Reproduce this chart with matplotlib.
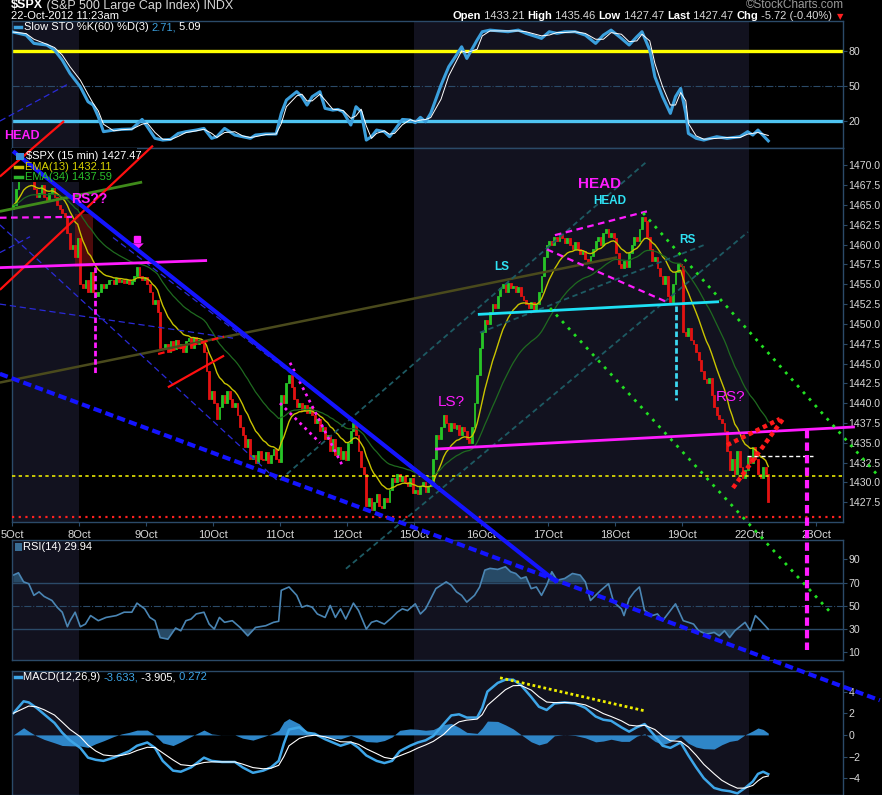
import numpy as np
import pandas as pd
import matplotlib
matplotlib.use("agg")
import matplotlib.pyplot as plt
from matplotlib.patches import Rectangle
from matplotlib.lines import Line2D
from matplotlib.text import Annotation
from matplotlib.ticker import FormatStrFormatter

plt.rcParams['font.family'] = ['Liberation Sans', 'DejaVu Sans']

# 15 minute closes of $SPX, one list per session
first_open = 1464.5
oct05 = [1465.0, 1467.0, 1468.5, 1469.5, 1470.5, 1469.0, 1468.5, 1468.0, 1467.0, 1466.0, 1466.5, 1467.5, 1466.0,
         1465.5, 1466.5, 1467.2, 1466.0, 1465.0, 1464.5, 1464.0, 1463.5, 1461.5, 1459.5, 1460.0, 1458.5, 1460.9]
oct08 = [1455.0, 1454.5, 1455.5, 1454.0, 1456.5, 1454.0, 1453.5, 1454.0, 1455.0, 1454.5, 1455.0, 1455.5, 1455.5,
         1455.0, 1455.8, 1455.3, 1455.6, 1455.2, 1455.5, 1455.0, 1455.4, 1456.0, 1457.2, 1456.0, 1455.5, 1455.9]
oct09 = [1455.0, 1454.0, 1452.5, 1453.0, 1451.5, 1447.0, 1446.8, 1447.5, 1446.5, 1447.8, 1446.8, 1448.0, 1447.0,
         1447.5, 1446.5, 1447.8, 1448.2, 1447.0, 1448.3, 1447.5, 1448.0, 1447.6, 1446.5, 1444.0, 1440.5, 1441.5]
oct10 = [1440.0, 1438.0, 1439.5, 1441.0, 1440.0, 1441.5, 1440.5, 1439.5, 1440.0, 1438.5, 1437.0, 1436.0, 1434.5,
         1435.5, 1433.0, 1433.5, 1432.5, 1434.0, 1433.0, 1432.8, 1433.8, 1432.5, 1433.5, 1434.2, 1433.0, 1432.6]
oct11 = [1441.0, 1440.0, 1442.5, 1443.5, 1442.0, 1440.5, 1439.5, 1440.0, 1439.0, 1439.8, 1438.8, 1439.5, 1438.5,
         1437.5, 1438.0, 1436.5, 1437.0, 1435.5, 1436.0, 1434.0, 1435.5, 1433.5, 1434.5, 1433.0, 1434.0, 1432.8]
oct12 = [1435.0, 1436.5, 1437.5, 1436.0, 1434.0, 1432.0, 1431.0, 1427.0, 1428.0, 1426.5, 1427.5, 1428.5, 1427.0,
         1426.8, 1428.0, 1427.5, 1429.0, 1430.5, 1430.0, 1431.0, 1430.2, 1430.8, 1430.0, 1429.5, 1430.5, 1428.6]
oct15 = [1429.0, 1428.5, 1429.5, 1430.0, 1428.8, 1429.5, 1430.0, 1433.0, 1436.0, 1435.5, 1437.0, 1438.5, 1437.5,
         1436.5, 1437.5, 1436.8, 1437.2, 1436.0, 1437.0, 1436.5, 1435.5, 1435.0, 1437.0, 1440.0, 1443.5, 1447.0]
oct16 = [1449.0, 1450.5, 1450.0, 1451.5, 1452.5, 1452.0, 1453.5, 1454.5, 1455.0, 1454.0, 1455.2, 1454.5, 1454.8,
         1454.0, 1454.6, 1453.5, 1453.0, 1452.5, 1452.0, 1452.8, 1451.8, 1452.5, 1454.0, 1456.0, 1458.5, 1460.0]
oct17 = [1460.5, 1460.0, 1461.0, 1460.5, 1461.2, 1460.8, 1460.2, 1460.8, 1460.0, 1459.5, 1460.3, 1459.5, 1458.8,
         1459.2, 1458.2, 1457.8, 1458.6, 1459.5, 1460.5, 1461.0, 1460.0, 1461.5, 1462.0, 1461.0, 1461.5, 1460.8]
oct18 = [1459.0, 1457.5, 1457.0, 1458.0, 1457.2, 1459.0, 1460.0, 1461.0, 1460.5, 1462.0, 1463.5, 1463.0, 1461.0,
         1459.5, 1458.0, 1458.5, 1457.0, 1456.0, 1455.0, 1456.0, 1453.5, 1452.8, 1455.0, 1456.5, 1457.5, 1457.3]
oct19 = [1449.0, 1448.5, 1449.5, 1448.0, 1447.5, 1446.5, 1445.5, 1444.0, 1443.0, 1442.5, 1443.2, 1441.0, 1439.5,
         1438.5, 1438.0, 1437.5, 1436.5, 1434.0, 1431.5, 1433.0, 1431.0, 1434.0, 1432.0, 1430.5, 1431.5, 1433.2]
oct22 = [1432.5, 1434.5, 1433.0, 1431.0, 1430.5, 1432.0, 1431.0, 1427.47]

day_labels = ['5Oct', '8Oct', '9Oct', '10Oct', '11Oct', '12Oct', '15Oct', '16Oct',
              '17Oct', '18Oct', '19Oct', '22Oct', '23Oct']
bars_per_day = 26
shaded_days = [(0, 1), (6, 11)]

# indicator readings: bar index -> value
sto_t = [0, 5, 8, 13, 16, 19, 22, 26, 29, 31, 33, 35, 39, 42, 46, 50, 52, 55, 58, 61,
         64, 67, 71, 74, 77, 79, 82, 86, 89, 92, 94, 98, 102, 104, 106, 110, 112, 114, 116, 119,
         121, 124, 126, 128, 131, 133, 135, 137, 139, 141, 144, 146, 148, 151, 154, 156, 158, 160, 162, 166,
         169, 172, 174, 176, 180, 182, 185, 192, 196, 199, 205, 208, 211, 214, 218, 222, 226, 229, 232, 236,
         239, 242, 244, 247, 249, 252, 255, 257, 259, 261, 262, 265, 268, 273, 277, 282, 285, 287, 289, 293]
sto_k = [96, 93.4, 86.3, 84.9, 80.6, 72, 60.6, 49.1, 36.3, 33.4, 23.4, 10.6, 12, 12.6, 12.9, 21.1, 14.9, 4.9, 3.4, 4,
         9.1, 10.6, 12, 13.4, 4.9, 6.3, 13.4, 7.7, 6.3, 4.9, 7.7, 8.6, 8.6, 26.3, 37.7, 44.9, 40.6, 33.4, 40.6, 44.9,
         30.6, 29.1, 29.7, 27.7, 16.3, 32, 27.7, 3.4, 6.3, 12, 10.6, 6.3, 12, 21.1, 20.6, 18.3, 22.9, 19.1, 26.3, 50.6,
         66.3, 76.3, 83.4, 73.4, 89.1, 96.3, 97.7, 96.3, 97.7, 94.9, 90.6, 96.3, 94.9, 96.3, 96.3, 93.4, 86.3, 93.4, 97.7, 90.6,
         84.9, 92, 96.3, 80.6, 57.7, 40.6, 26.3, 40.6, 47.7, 26.3, 9.1, 4.9, 3.4, 6.3, 4.9, 6.3, 10.6, 7.7, 12, 2.7]

rsi_t = [0, 2, 4, 6, 8, 10, 12, 15, 17, 19, 21, 22, 24, 26, 28, 30, 33, 36, 40, 43,
         46, 48, 51, 53, 55, 57, 60, 63, 65, 67, 69, 71, 74, 76, 78, 80, 82, 85, 88, 91,
         94, 98, 101, 103, 104, 107, 110, 112, 114, 116, 118, 121, 123, 125, 127, 129, 132, 134, 137, 139,
         141, 144, 147, 149, 151, 153, 156, 158, 160, 162, 164, 168, 170, 172, 174, 176, 179, 181, 183, 185,
         188, 191, 193, 195, 197, 199, 201, 203, 205, 207, 209, 211, 214, 217, 220, 222, 224, 226, 228, 231,
         233, 236, 237, 239, 241, 243, 245, 248, 250, 252, 255, 257, 260, 262, 264, 266, 269, 272, 274, 276,
         278, 280, 284, 286, 288, 290, 293]
rsi_v = [76.4, 78.4, 70.6, 69, 59, 62, 58, 54.6, 48.8, 44.5, 32, 37, 44.5, 32, 34.3, 41.6, 37.2, 40, 41.6, 44.5,
         44.5, 52.3, 47.4, 40, 37.2, 22.7, 21.3, 30.9, 28.5, 37.2, 38.6, 43, 44.5, 34.3, 30, 40, 35.8, 37.2, 31.4, 24.2,
         31.4, 32.9, 35.8, 36.7, 63.3, 66.2, 59, 48.8, 50.3, 48.8, 43, 40, 50.3, 40, 47.4, 38.6, 52.3, 45.9, 30, 35.8,
         37.2, 34.3, 40, 44.5, 47.4, 45.9, 51.7, 43, 47.4, 56, 64.8, 70.6, 67.7, 62, 59, 53.2, 59, 66.2, 80.7, 82.2,
         81.3, 83.6, 79.3, 77.8, 73.5, 74.9, 64.8, 66.2, 59, 67.7, 79.3, 72, 73.5, 77.8, 76.4, 70.6, 54.6, 59, 63.3, 69,
         53.2, 47.4, 41.6, 56, 62, 66.2, 45.9, 41.6, 43, 37.2, 45.9, 51.7, 37.2, 35.8, 34.3, 28.5, 25.6, 27.1, 24.2, 28.5,
         22.7, 28.5, 35.8, 28.5, 41.6, 37.2, 29.9]

macd_t = [0, 4, 6, 9, 12, 16, 19, 22, 26, 29, 32, 35, 39, 42, 45, 48, 52, 55, 58, 62,
          65, 69, 74, 77, 81, 86, 89, 93, 97, 100, 103, 105, 107, 111, 114, 117, 121, 124, 127, 131,
          134, 137, 141, 144, 147, 150, 154, 157, 160, 163, 167, 170, 173, 176, 180, 182, 184, 188, 191, 194,
          197, 201, 204, 207, 210, 214, 218, 222, 226, 229, 232, 236, 239, 242, 245, 249, 252, 255, 259, 262,
          265, 268, 272, 275, 278, 281, 284, 287, 289, 291, 293]
macd_v = [2.0, 3.1, 3.0, 2.5, 1.9, 1.1, 0.2, -0.5, -1.2, -2.1, -2.3, -2.4, -2.1, -1.8, -1.5, -1.0, -0.7, -1.2, -2.4, -3.3,
          -3.4, -3.0, -2.1, -2.4, -2.5, -2.5, -3.0, -3.5, -3.3, -3.0, -2.4, -0.8, 0.5, 0.7, 0.2, 0.1, -0.4, -0.7, -1.0, -0.7,
          -1.2, -1.9, -2.4, -2.6, -2.4, -1.5, -1.0, -0.7, -0.5, -0.1, 1.0, 1.8, 1.9, 1.6, 1.6, 2.5, 4.0, 4.8, 5.1, 5.1,
          4.6, 3.5, 2.6, 2.3, 2.9, 3.0, 2.9, 2.5, 1.7, 1.4, 1.3, 0.7, 0.3, 0.7, 1.0, -0.1, -1.0, -1.2, -0.7, -1.9,
          -3.0, -4.0, -4.9, -5.1, -5.2, -5.4, -4.9, -4.3, -3.6, -3.4, -3.63]

# hand drawn trendlines on the price chart: (bar0, price0, bar1, price1)
blue_solid = [(-0.1, 1471.8, 211.0, 1417.4)]
blue_thick_dash = [(-5.2, 1443.7, 336.3, 1402.5)]
blue_thin_dash = [(-5.2, 1462.5, 102.3, 1430.3), (38.7, 1460.9, 165.6, 1429.4),
                  (-5.2, 1452.5, 85.3, 1448.2), (-5.2, 1475.6, 22.0, 1480.4), (-5.2, 1459.0, 6.5, 1461.0)]
red_solid = [(-5.2, 1454.3, 54.2, 1472.5), (-5.2, 1468.6, 19.7, 1475.6), (60.0, 1442.0, 81.8, 1446.0)]
red_dash = [(56.2, 1446.2, 81.8, 1448.4)]
red_dotted = [(277.0, 1434.7, 297.5, 1438.0), (279.3, 1429.3, 298.7, 1438.0)]
green_solid = [(-5.2, 1464.2, 50.0, 1467.9)]
olive_solid = [(-5.2, 1442.6, 234.3, 1458.4)]
magenta_solid = [(-5.2, 1457.1, 75.2, 1458.0), (163.7, 1434.2, 326.6, 1437.0)]
magenta_dash = [(-5.2, 1463.4, 22.8, 1463.5), (210.2, 1461.2, 245.9, 1464.2), (207.1, 1459.4, 254.1, 1452.7)]
magenta_dot = [(107.4, 1445.1, 127.6, 1432.2), (103.5, 1440.0, 119.0, 1435.0)]
magenta_vert = [(31.7, 1457.2, 31.7, 1443.5)]
magenta_vert_big = [(308.0, 1436.6, 308.0, 1408.8)]
teal_dash = [(103.5, 1430.3, 245.9, 1470.5), (129.1, 1419.1, 285.1, 1461.6), (181.1, 1448.9, 269.2, 1460.1)]
cyan_solid = [(180.3, 1451.2, 273.9, 1452.8)]
cyan_vert = [(257.2, 1452.2, 257.2, 1440.4)]
green_dotted = [(244.4, 1464.0, 336.3, 1430.6), (208.3, 1452.0, 317.7, 1413.4)]
white_dash = [(284.7, 1433.3, 310.3, 1433.3)]
yellow_level = 1430.8
red_level = 1425.6
macd_div = [(188.9, 5.27, 244.7, 2.24)]

BG = 'black'
SHADE = '#12121f'
GRID = '#2b4a68'
TXT = '#d8d8d8'
GREEN = '#27c427'
RED = '#e21212'
MAG = '#ff1cff'
FS = 8

closes = np.array(oct05 + oct08 + oct09 + oct10 + oct11 + oct12 + oct15 + oct16 + oct17 + oct18 + oct19 + oct22)
opens = np.r_[first_open, closes[:-1]]
idx = np.arange(len(closes))
ema13 = pd.Series(closes).ewm(span=13, adjust=False).mean()
ema34 = pd.Series(closes).ewm(span=34, adjust=False).mean()
sto_d = pd.Series(sto_k).rolling(2, min_periods=1).mean()
macd_sig = pd.Series(macd_v).ewm(span=4, adjust=False).mean()
macd_hist = np.array(macd_v) - macd_sig.values

day_ticks = [bars_per_day * d - 0.5 for d in range(len(day_labels))]

fig = plt.figure(figsize=(8.82, 7.95), dpi=100, facecolor=BG)
W, H = 882.0, 795.0


def panel(top, bot):
    return fig.add_axes([12 / W, 1 - bot / H, 831 / W, (bot - top) / H])


def style(ax, ticks, lim):
    ax.set_facecolor(BG)
    ax.set_xlim(-0.5, 322)
    ax.set_ylim(*lim)
    for sp in ax.spines.values():
        sp.set_color(GRID)
        sp.set_linewidth(1)
    ax.yaxis.tick_right()
    ax.set_yticks(ticks)
    ax.tick_params(axis='y', colors=TXT, labelsize=7.6, length=3, color=GRID, pad=1)
    ax.tick_params(axis='x', length=0, labelbottom=False)
    ax.set_xticks([])
    for d0, d1 in shaded_days:
        ax.axvspan(day_ticks[d0], day_ticks[d1], color=SHADE, lw=0, zorder=0)


ax_sto = panel(21, 148)
ax_p = panel(148, 522)
ax_rsi = panel(540, 660)
ax_macd = panel(671, 795)
ax_p.set_zorder(10)

# --- slow stochastics
style(ax_sto, [20, 50, 80], (-3.4, 105.5))
ax_sto.axhline(80, color='#ffff00', lw=2.4, zorder=1)
ax_sto.axhline(20, color='#4fc4f2', lw=2.4, zorder=1)
ax_sto.axhline(50, color=GRID, lw=0.8, ls='-.', zorder=1)
ax_sto.plot(sto_t, sto_k, color='#3b9fdc', lw=2.2, zorder=3)
ax_sto.plot(sto_t, sto_d, color='white', lw=0.7, zorder=4)
ax_sto.text(3.4, 6.9, 'HEAD', color=MAG, fontsize=9, fontweight='bold', ha='center', va='center', zorder=5)

# --- price
style(ax_p, np.arange(1427.5, 1470.1, 2.5), (1425.0, 1472.2))
ax_p.yaxis.set_major_formatter(FormatStrFormatter('%.1f'))
ax_p.set_xticks(day_ticks)
ax_p.set_xticklabels(day_labels)
ax_p.tick_params(axis='x', labelbottom=True, colors=TXT, labelsize=FS, length=3, color=GRID, pad=3)

cols = np.where(closes >= opens, GREEN, RED)
ax_p.add_patch(Rectangle((23.9, 1457.2), 7.0, 6.7, color='#6e1010', alpha=0.7, lw=0, zorder=1))
ax_p.bar(idx, closes - opens, bottom=opens, width=0.72, color=cols, edgecolor=cols, linewidth=0.6, zorder=3)
ax_p.plot(idx, ema13, color='#c9c400', lw=1.0, zorder=4)
ax_p.plot(idx, ema34, color='#1f6a1f', lw=0.9, zorder=4)

ax_p.add_patch(Rectangle((0, 0.91), 0.15, 0.09, transform=ax_p.transAxes, color=BG, lw=0, zorder=5))

ax_p.axhline(yellow_level, color='#e8e800', lw=1.2, ls=(0, (2, 2)), zorder=6)
ax_p.axhline(red_level, color='#ff2020', lw=1.6, ls=(0, (1, 2)), zorder=6)


def draw(ax, segs, **kw):
    for x0, y0, x1, y1 in segs:
        ax.plot([x0, x1], [y0, y1], clip_on=False, solid_capstyle='butt', **kw)


draw(ax_p, olive_solid, color='#4a4a1c', lw=1.8, zorder=5)
draw(ax_p, teal_dash, color='#1d5a63', lw=1.3, ls=(0, (3, 2)), zorder=5)
draw(ax_p, blue_thin_dash, color='#2a2ad8', lw=0.9, ls=(0, (5, 3)), zorder=6)
draw(ax_p, green_solid, color='#3f8a1a', lw=2, zorder=6)
draw(ax_p, red_solid, color='#ff1010', lw=1.6, zorder=6)
draw(ax_p, red_dash, color='#ff1010', lw=1.6, ls=(0, (3, 2)), zorder=6)
draw(ax_p, magenta_solid, color=MAG, lw=2, zorder=6)
draw(ax_p, magenta_dash, color=MAG, lw=1.6, ls=(0, (3, 2)), zorder=6)
draw(ax_p, magenta_dot, color=MAG, lw=2, ls=(0, (1, 1.5)), zorder=6)
draw(ax_p, magenta_vert, color=MAG, lw=2, ls=(0, (2, 1)), zorder=6)
draw(ax_p, magenta_vert_big, color=MAG, lw=3, ls=(0, (2, 1)), zorder=7)
draw(ax_p, cyan_solid, color='#1ee0f5', lw=2, zorder=6)
draw(ax_p, cyan_vert, color='#3cd8f0', lw=2, ls=(0, (2, 1)), zorder=6)
draw(ax_p, green_dotted, color='#22e022', lw=2, ls=(0, (1, 2.2)), zorder=6)
draw(ax_p, red_dotted, color='#ff1a1a', lw=3.2, ls=(0, (1, 0.8)), zorder=7)
draw(ax_p, white_dash, color='white', lw=1, ls=(0, (3, 2)), zorder=6)
draw(ax_p, blue_solid, color='#1414ff', lw=3, zorder=8)
draw(ax_p, blue_thick_dash, color='#1414ff', lw=3, ls=(0, (2, 1)), zorder=8)

# arrow over 9Oct
ax_p.plot(48, 1460.7, marker='s', ms=4.6, color=MAG, zorder=7, clip_on=False)
ax_p.plot(48, 1459.8, marker=[(-1, 0.5), (1, 0.5), (0, -0.5)], ms=9, color=MAG, mew=0, zorder=7)

labels = [('HEAD', 227.7, 1467.7, MAG, 11, 'bold'), ('HEAD', 231.6, 1465.5, '#2fe3f5', 8.5, 'bold'),
          ('LS', 189.7, 1457.2, '#2fe3f5', 8.5, 'bold'), ('RS', 261.8, 1460.6, '#2fe3f5', 8.5, 'bold'),
          ('LS?', 169.9, 1440.1, MAG, 11, 'normal'), ('RS?', 278.5, 1440.8, MAG, 11, 'normal'),
          ('RS??', 29.6, 1465.8, MAG, 10, 'bold')]
for s, x, y, c, fs, fw in labels:
    ax_p.text(x, y, s, color=c, fontsize=fs, fontweight=fw, ha='center', va='center', zorder=9)

# --- RSI
style(ax_rsi, [10, 30, 50, 70, 90], (3.4, 106.6))
rv = np.array(rsi_v)
ax_rsi.fill_between(rsi_t, rv, 70, where=rv >= 70, interpolate=True, color='#274a66', lw=0, zorder=1)
ax_rsi.fill_between(rsi_t, rv, 30, where=rv <= 30, interpolate=True, color='#274a66', lw=0, zorder=1)
ax_rsi.axhline(70, color=GRID, lw=1, zorder=1)
ax_rsi.axhline(30, color=GRID, lw=1, zorder=1)
ax_rsi.axhline(50, color=GRID, lw=0.8, ls='-.', zorder=1)
ax_rsi.plot(rsi_t, rv, color='#4a85b3', lw=1.2, zorder=2)

# --- MACD
style(ax_macd, [-4, -2, 0, 2, 4], (-5.55, 5.9))
ax_macd.fill_between(macd_t, 0, macd_hist, color='#2f86c8', lw=0, zorder=1)
ax_macd.plot(macd_t, macd_v, color='#3ea6e8', lw=1.8, zorder=2)
ax_macd.plot(macd_t, macd_sig, color='white', lw=0.8, zorder=3)
draw(ax_macd, macd_div, color='#f0f000', lw=2, ls=(0, (1, 1)), zorder=4)


# --- texts placed in figure pixels
def fp(x, y):
    return x / W, 1 - y / H


def run(x, y, parts, size=FS, va='center'):
    s, c, w = parts[0]
    t = fig.text(*fp(x, y), s, color=c, fontsize=size, fontweight=w, va=va, zorder=20)
    for s, c, w in parts[1:]:
        a = Annotation(s, xy=(1, 0), xycoords=t, xytext=(0, 0), textcoords='offset points',
                       color=c, fontsize=size, fontweight=w, va='bottom', zorder=20)
        fig.add_artist(a)
        t = a


def run_right(x, y, parts, size=FS):
    s, c, w = parts[-1]
    t = fig.text(*fp(x, y), s, color=c, fontsize=size, fontweight=w, ha='right', va='center', zorder=20)
    for s, c, w in parts[-2::-1]:
        a = Annotation(s, xy=(0, 0), xycoords=t, xytext=(0, 0), textcoords='offset points',
                       color=c, fontsize=size, fontweight=w, ha='right', va='bottom', zorder=20)
        fig.add_artist(a)
        t = a


def dash(x0, x1, y, c, lw=2.5):
    fig.add_artist(Line2D([x0 / W, x1 / W], [1 - y / H] * 2, color=c, lw=lw, zorder=20))


run(11, 8.5, [('$SPX', 'white', 'bold'), (' (S&P 500 Large Cap Index) INDX', TXT, 'normal')], size=9, va='baseline')
fig.text(*fp(844, 8.5), '©StockCharts.com', color='#9a9a9a', fontsize=8.5, ha='right', va='baseline')
fig.text(*fp(11, 16), '22-Oct-2012 11:23am', color='white', fontsize=FS, va='center')
run_right(832, 16, [('Open', 'white', 'bold'), (' 1433.21 ', TXT, 'normal'), ('High', 'white', 'bold'),
                    (' 1435.46 ', TXT, 'normal'), ('Low', 'white', 'bold'), (' 1427.47 ', TXT, 'normal'),
                    ('Last', 'white', 'bold'), (' 1427.47 ', TXT, 'normal'), ('Chg', 'white', 'bold'),
                    (' -5.72 (-0.40%)', TXT, 'normal')])
fig.text(*fp(840, 16.5), '▼', color='#ff2020', fontsize=6, ha='center', va='center', family='DejaVu Sans')

dash(15, 21, 27, '#3b9fdc')
run(24, 27, [('Slow STO %K(60) %D(3) ', 'white', 'normal'), ('2.71,', '#3b9fdc', 'normal'),
             (' 5.09', 'white', 'normal')])
fig.add_artist(Rectangle((16 / W, 1 - 160 / H), 8 / W, 7 / H, color='#3b8fd8', lw=0, zorder=20))
fig.text(*fp(26, 156), '$SPX (15 min) 1427.47', color='white', fontsize=FS, va='center', zorder=20)
dash(15, 22, 167, '#c9c400')
fig.text(*fp(25, 167), 'EMA(13) 1432.11', color='#d6d200', fontsize=FS, va='center', zorder=20)
dash(15, 22, 177, '#2bb52b')
fig.text(*fp(25, 177), 'EMA(34) 1437.59', color='#2bc02b', fontsize=FS, va='center', zorder=20)
fig.add_artist(Rectangle((15 / W, 1 - 551 / H), 7 / W, 8 / H, color='#3a6e96', lw=0, zorder=20))
fig.text(*fp(23, 547), 'RSI(14) 29.94', color='white', fontsize=FS, va='center', zorder=20)
dash(15, 21, 677, '#3ea6e8')
run(23, 677, [('MACD(12,26,9) ', 'white', 'normal'), ('-3.633,', '#3ea6e8', 'normal'),
              (' -3.905,', 'white', 'normal'), (' 0.272', '#3ea6e8', 'normal')])

fig.savefig('out.png', dpi=100, facecolor=BG)
